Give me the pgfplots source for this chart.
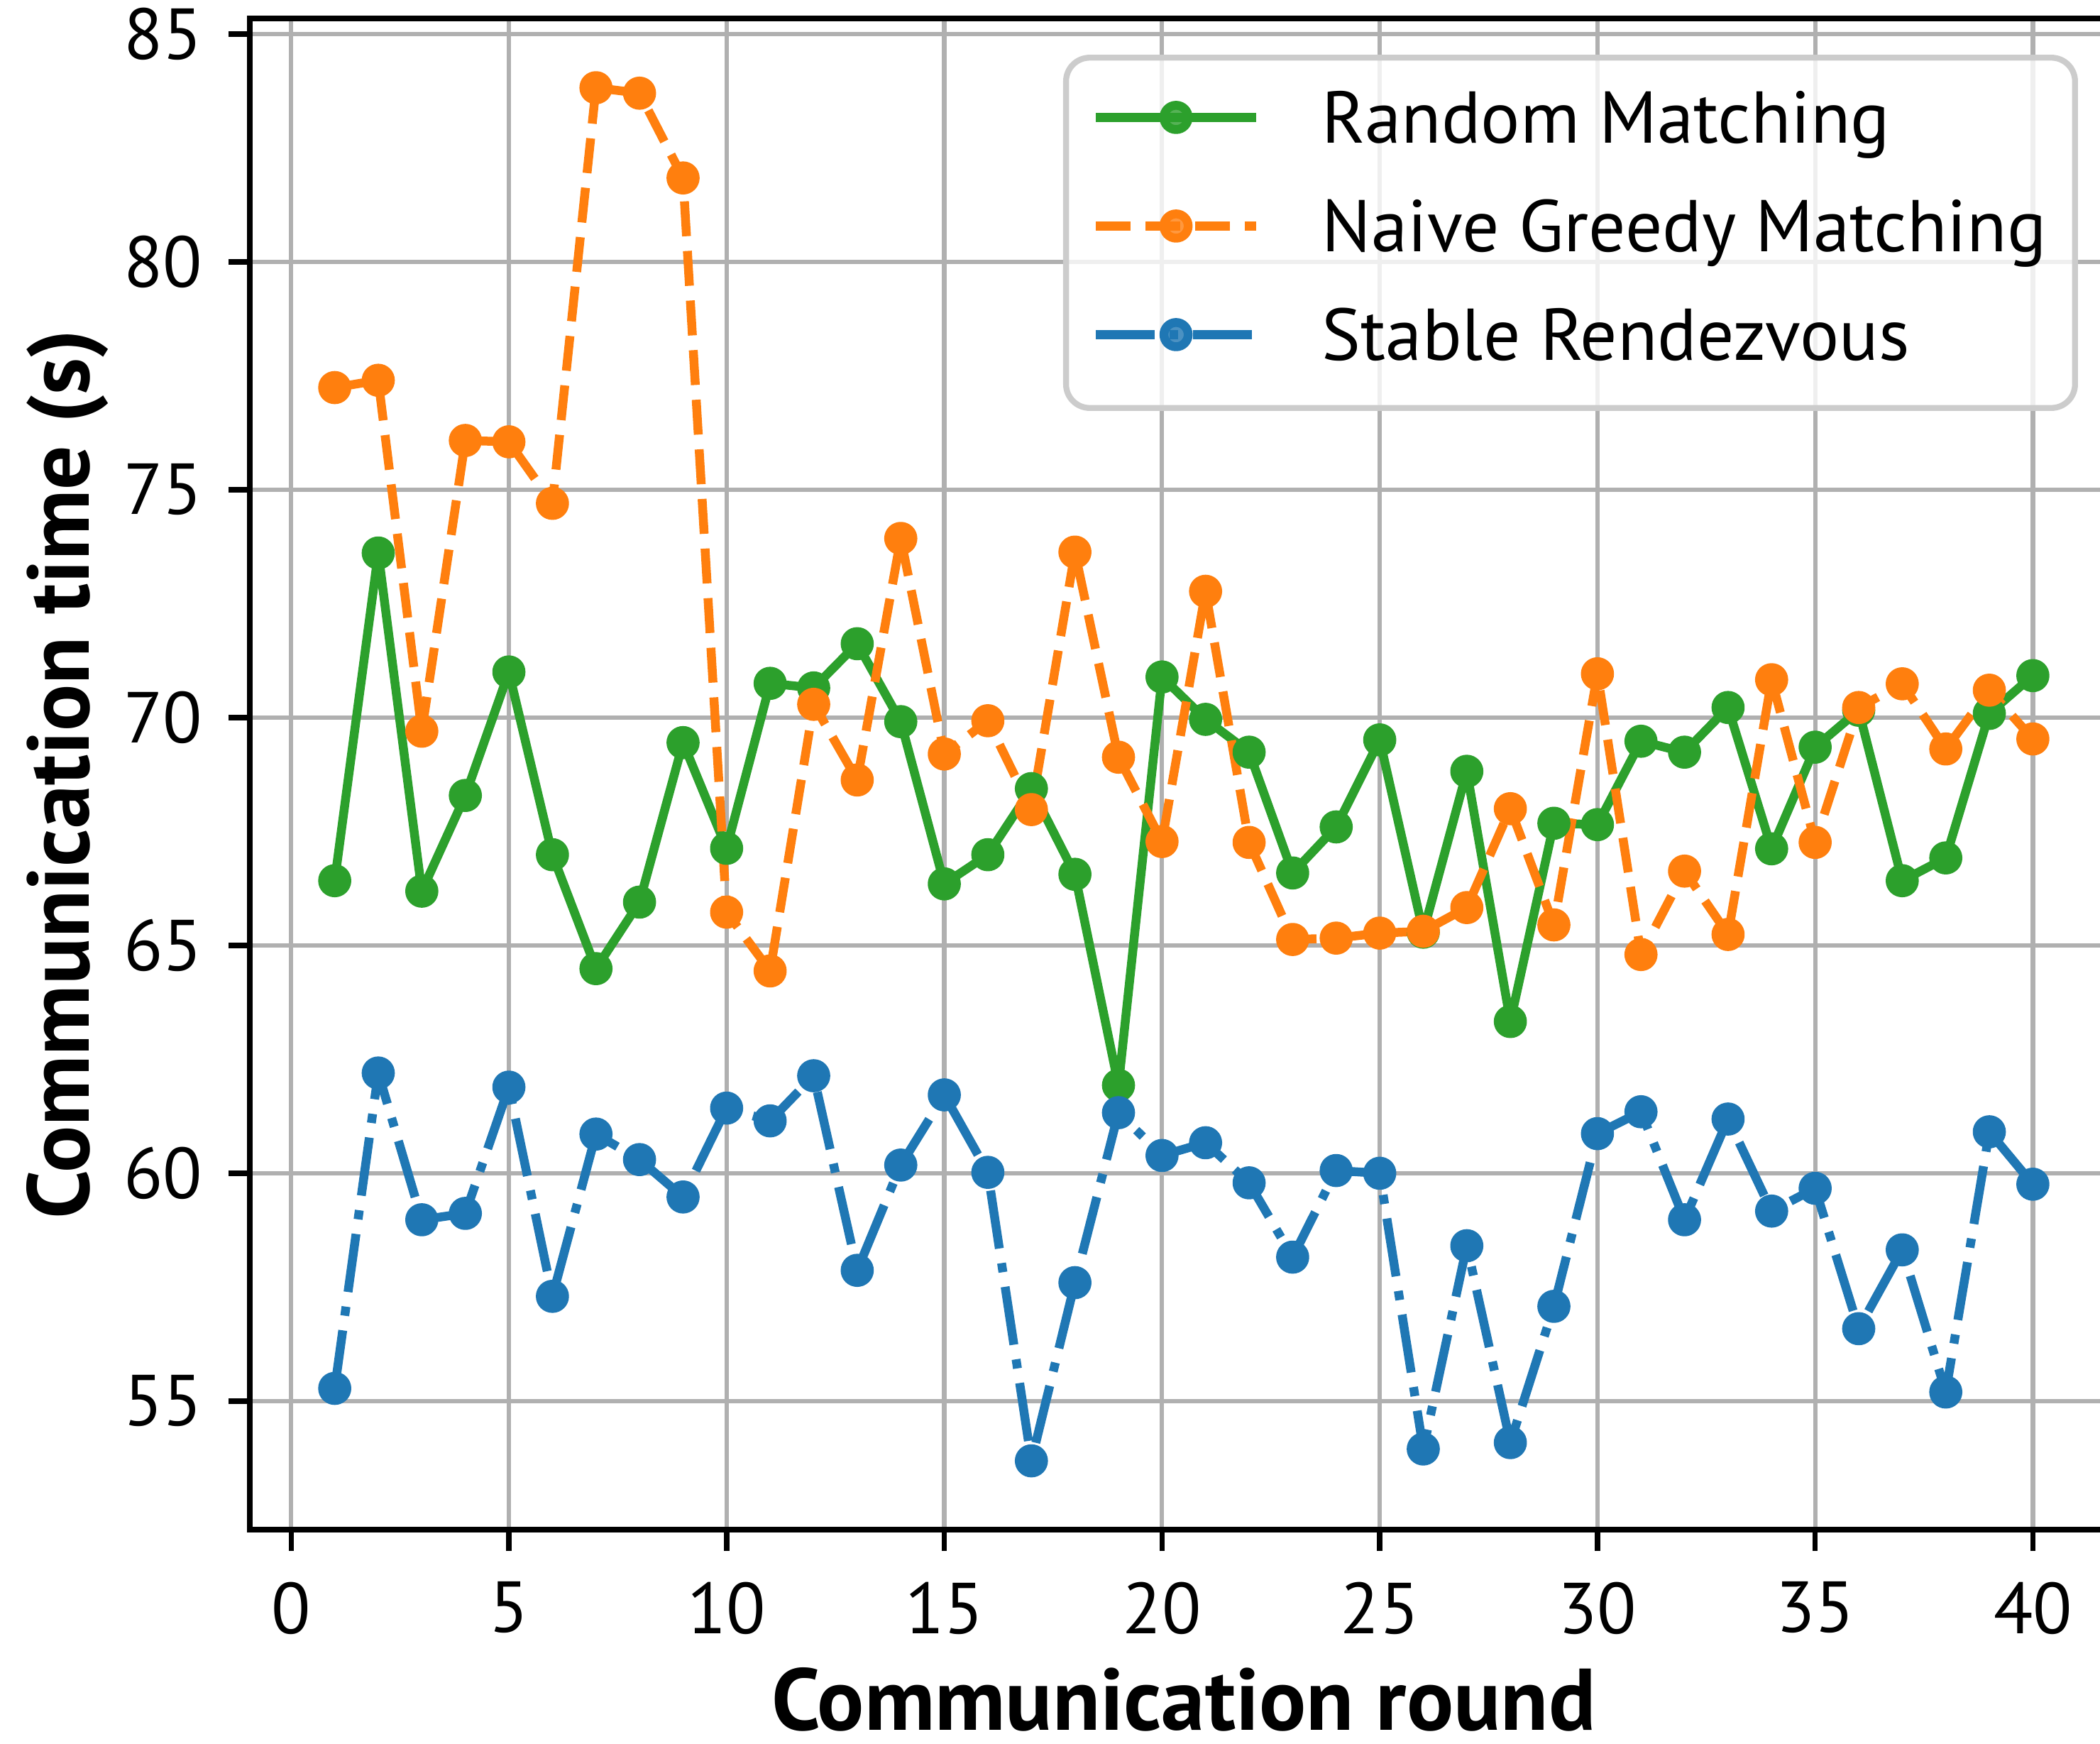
\documentclass[border=0pt]{standalone}
\usepackage{fontspec}
\setmainfont{PT Sans}
\usepackage{pgfplots}
\pgfplotsset{compat=1.18}
\definecolor{cgreen}{HTML}{2CA02C}
\definecolor{corange}{HTML}{FF7F0E}
\definecolor{cblue}{HTML}{1F77B4}
\definecolor{cgrid}{HTML}{B0B0B0}
\definecolor{cframe}{HTML}{CCCCCC}
\begin{document}
\begin{tikzpicture}
\clip (-42.24pt,-36.12pt) rectangle (312.84pt,258.6pt);
\begin{axis}[
  at={(0pt,0pt)}, anchor=south west,
  scale only axis, width=315.84pt, height=255.48pt,
  xmin=-0.95, xmax=41.95, ymin=52.18, ymax=85.34,
  xtick={0,5,...,40}, ytick={55,60,...,85},
  grid=major, major grid style={cgrid, line width=0.75pt},
  axis line style={black, line width=0.9pt},
  tick style={black, line width=0.9pt},
  tick align=outside, major tick length=3.6pt,
  xtick pos=bottom, ytick pos=left,
  /pgf/number format/assume math mode=true,
  ticklabel style={font=\fontsize{12.2pt}{14pt}\selectfont},
  xticklabel style={anchor=north, inner sep=0pt, yshift=-5.04pt},
  yticklabel style={anchor=east, inner sep=0pt, xshift=-4.2pt},
  label style={font=\bfseries\fontsize{14.8pt}{17pt}\selectfont},
  xlabel={Communication round},
  ylabel={Communication time (s)},
  xlabel style={at={(axis description cs:0.5,-0.1325)}, anchor=base, inner sep=0pt},
  ylabel style={at={(axis description cs:-0.08625,0.5)}, anchor=base, inner sep=0pt},
  legend style={at={(0.9787,0.976)}, anchor=north east,
    draw=cframe, line width=1pt, fill=white, fill opacity=0.8, draw opacity=1, text opacity=1,
    rounded corners=4pt, inner xsep=4.3pt, inner ysep=6.1pt,
    row sep=8.06pt, column sep=10.4pt,
    nodes={inner sep=0pt, text height=8.3pt, text depth=2pt},
    font=\fontsize{12.4pt}{14pt}\selectfont},
  legend cell align=left,
  legend image code/.code={\draw[mark repeat=2,mark phase=2,#1] plot coordinates {(0pt,1.15pt) (13.55pt,1.15pt) (27.1pt,1.15pt)};},
]
\addplot[cgreen, line width=1.5pt, line join=round, mark=*, mark size=2.05pt, mark options={solid, draw=none, fill=cgreen}] coordinates {
(1,66.42) (2,73.61) (3,66.19) (4,68.29) (5,71.00) (6,66.99) (7,64.49) (8,65.95) (9,69.45) (10,67.13)
(11,70.75) (12,70.65) (13,71.62) (14,69.91) (15,66.35) (16,66.99) (17,68.44) (18,66.56) (19,61.93) (20,70.89)
(21,69.96) (22,69.24) (23,66.59) (24,67.60) (25,69.51) (26,65.29) (27,68.82) (28,63.33) (29,67.68) (30,67.65)
(31,69.48) (32,69.24) (33,70.22) (34,67.12) (35,69.35) (36,70.16) (37,66.42) (38,66.92) (39,70.09) (40,70.92)};
\addlegendentry{\makebox[123pt][l]{Random Matching}}
\addplot[corange, line width=1.5pt, line join=round, dash pattern=on 5.9pt off 2.5pt, mark=*, mark size=2.05pt, mark options={solid, draw=none, fill=corange}] coordinates {
(1,77.24) (2,77.40) (3,69.70) (4,76.08) (5,76.05) (6,74.70) (7,83.82) (8,83.70) (9,81.84) (10,65.73)
(11,64.44) (12,70.29) (13,68.63) (14,73.93) (15,69.20) (16,69.93) (17,67.98) (18,73.63) (19,69.13) (20,67.28)
(21,72.77) (22,67.26) (23,65.13) (24,65.16) (25,65.27) (26,65.31) (27,65.83) (28,68.00) (29,65.45) (30,70.96)
(31,64.80) (32,66.63) (33,65.24) (34,70.83) (35,67.26) (36,70.22) (37,70.74) (38,69.31) (39,70.60) (40,69.53)};
\addlegendentry{Naive Greedy Matching}
\addplot[cblue, line width=1.5pt, line join=round, dash pattern=on 9.9pt off 2.5pt on 1.55pt off 2.5pt, mark=*, mark size=2.05pt, mark options={solid, draw=none, fill=cblue}] coordinates {
(1,55.28) (2,62.20) (3,58.98) (4,59.12) (5,61.89) (6,57.30) (7,60.86) (8,60.30) (9,59.48) (10,61.43)
(11,61.15) (12,62.14) (13,57.87) (14,60.18) (15,61.72) (16,60.02) (17,53.69) (18,57.60) (19,61.33) (20,60.39)
(21,60.67) (22,59.79) (23,58.16) (24,60.06) (25,60.00) (26,53.95) (27,58.41) (28,54.09) (29,57.08) (30,60.87)
(31,61.35) (32,58.98) (33,61.19) (34,59.17) (35,59.67) (36,56.59) (37,58.32) (38,55.20) (39,60.91) (40,59.76)};
\addlegendentry{Stable Rendezvous}
\end{axis}
\end{tikzpicture}
\end{document}
